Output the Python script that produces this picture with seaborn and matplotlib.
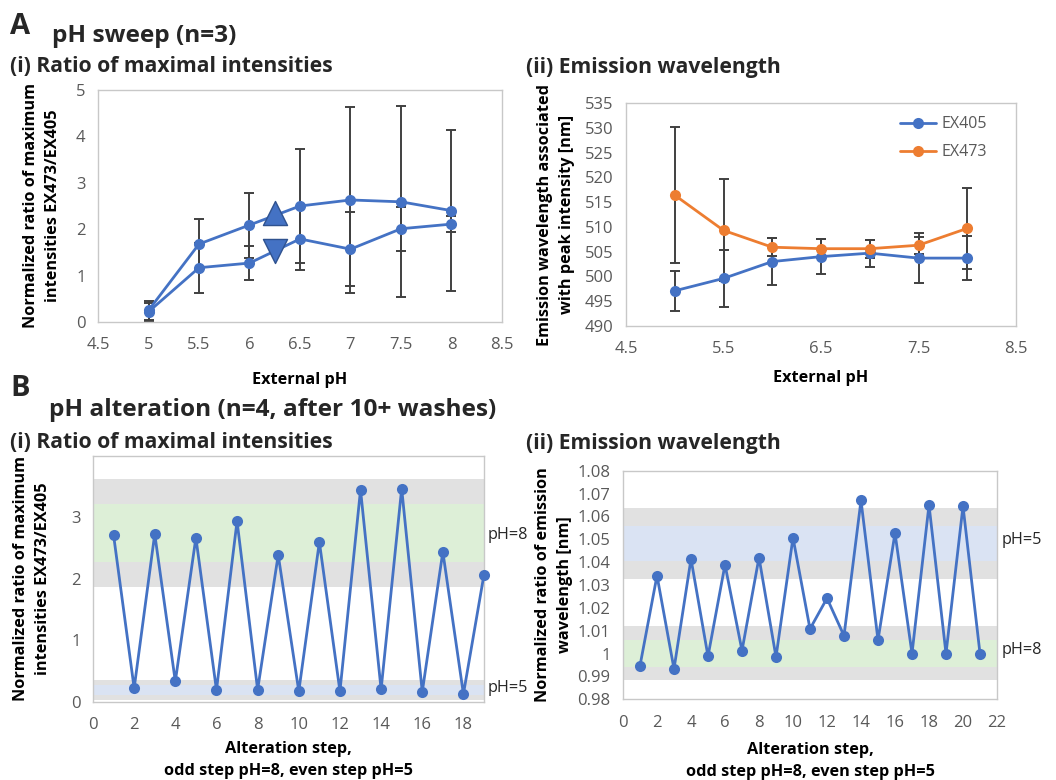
import matplotlib
matplotlib.use('Agg')
import matplotlib.pyplot as plt
import matplotlib.transforms as mtransforms
from matplotlib.ticker import MultipleLocator, FuncFormatter
import seaborn as sns

# ---- A: pH sweep (n=3) ----
ph = [5, 5.5, 6, 6.5, 7, 7.5, 8]
ratio_up = [0.25, 1.68, 2.09, 2.50, 2.63, 2.59, 2.40]
ratio_up_err = [0.21, 0.55, 0.70, 1.22, 2.00, 2.06, 1.73]
ratio_down = [0.22, 1.17, 1.27, 1.79, 1.57, 2.01, 2.11]
ratio_down_err = [0.20, 0.54, 0.37, 0.68, 0.79, 0.47, 0.18]
arrow_x = [6.25, 6.25]
arrow_y = [2.35, 1.53]

wl_405 = [497.1, 499.6, 503.0, 504.0, 504.7, 503.7, 503.7]
wl_405_err = [4.0, 5.8, 4.7, 3.6, 2.7, 5.0, 4.45]
wl_473 = [516.4, 509.3, 505.9, 505.6, 505.6, 506.3, 509.7]
wl_473_err = [13.7, 10.3, 1.8, 1.9, 1.8, 1.7, 8.1]

# ---- B: pH alteration (n=4) ----
steps_ratio = [1, 2, 3, 4, 5, 6, 7, 8, 9, 10, 11, 12, 13, 14, 15, 16, 17, 18, 19]
ratio_alt = [2.71, 0.22, 2.73, 0.33, 2.67, 0.19, 2.94, 0.195, 2.39, 0.17,
             2.60, 0.17, 3.45, 0.20, 3.47, 0.16, 2.44, 0.125, 2.07]
steps_wl = [1, 2, 3, 4, 5, 6, 7, 8, 9, 10, 11, 12, 13, 14, 15, 16, 17, 18, 19, 20, 21]
wl_alt = [0.9947, 1.0341, 0.9933, 1.0414, 0.9988, 1.0389, 1.0013, 1.0420, 0.9985,
          1.0507, 1.0108, 1.0242, 1.0078, 1.0670, 1.0059, 1.0527, 1.0000, 1.0650,
          1.0000, 1.0645, 1.0000]

# reference bands (gray = outer range, coloured = inner range)
ratio_gray = [(1.87, 3.63), (0.02, 0.36)]
ratio_ph8 = (2.28, 3.22)
ratio_ph5 = (0.11, 0.27)
wl_gray = [(1.0326, 1.0635), (0.9885, 1.0121)]
wl_ph5 = (1.0405, 1.0558)
wl_ph8 = (0.9943, 1.0059)

BLUE = '#4472C4'
ORANGE = '#ED7D31'
ERR = '#404040'
SPINE = '#c8c8c8'
TICKTXT = '#595959'
GRAY_BAND = '#e1e1e1'
GREEN_BAND = '#ddefd7'
BLUE_BAND = '#dae3f3'

sns.set_theme(style='white')
plt.rcParams['font.family'] = ['Open Sans', 'DejaVu Sans']

W, H = 1056, 780
fig = plt.figure(figsize=(W / 100, H / 100), dpi=100)


def px_axes(left, top, right, bottom):
    return fig.add_axes([left / W, 1 - bottom / H, (right - left) / W, (bottom - top) / H])


def style(ax):
    for sp in ax.spines.values():
        sp.set_color(SPINE)
        sp.set_linewidth(1.0)
    ax.tick_params(axis='both', which='both', direction='out', length=4, width=1,
                   color=SPINE, labelcolor=TICKTXT, labelsize=12)
    ax.tick_params(axis='x', pad=7)
    ax.tick_params(axis='y', pad=5)
    ax.grid(False)


def labels(ax, xlab, ylab, xy, yx):
    ax.set_xlabel(xlab, fontsize=11.7, fontweight='bold', color='black',
                  va='center', linespacing=1.5)
    ax.xaxis.set_label_coords(0.5, xy)
    ax.set_ylabel(ylab, fontsize=11.7, fontweight='bold', color='black',
                  va='center', ha='center', linespacing=1.55)
    ax.yaxis.set_label_coords(yx, 0.5)


def line(ax, x, y, color, label=None):
    sns.lineplot(x=x, y=y, ax=ax, color=color, marker='o', markersize=8,
                 markeredgewidth=0, linewidth=2, label=label, zorder=3)


# ---- A (i) ----
ax1 = px_axes(98, 90, 502, 322)
style(ax1)
ax1.errorbar(ph, ratio_up, yerr=ratio_up_err, fmt='none', ecolor=ERR,
             elinewidth=1.4, capsize=3.5, capthick=1.4, zorder=2)
ax1.errorbar(ph, ratio_down, yerr=ratio_down_err, fmt='none', ecolor=ERR,
             elinewidth=1.4, capsize=3.5, capthick=1.4, zorder=2)
line(ax1, ph, ratio_up, BLUE)
line(ax1, ph, ratio_down, BLUE)
sns.scatterplot(x=arrow_x[:1], y=arrow_y[:1], ax=ax1, marker='^', s=300,
                color=BLUE, edgecolor='#2F528F', linewidth=1, zorder=4)
sns.scatterplot(x=arrow_x[1:], y=arrow_y[1:], ax=ax1, marker='v', s=300,
                color=BLUE, edgecolor='#2F528F', linewidth=1, zorder=4)
ax1.set_xlim(4.5, 8.5)
ax1.set_ylim(0, 5)
ax1.xaxis.set_major_locator(MultipleLocator(0.5))
ax1.yaxis.set_major_locator(MultipleLocator(1))
ax1.xaxis.set_major_formatter(FuncFormatter(lambda v, p: f'{v:g}'))
labels(ax1, 'External pH', 'Normalized ratio of maximum\nintensities EX473/EX405', -0.25, -0.139)

# ---- A (ii) ----
ax2 = px_axes(626, 103, 1016, 326)
style(ax2)
ax2.errorbar(ph, wl_405, yerr=wl_405_err, fmt='none', ecolor=ERR,
             elinewidth=1.4, capsize=3.5, capthick=1.4, zorder=2)
ax2.errorbar(ph, wl_473, yerr=wl_473_err, fmt='none', ecolor=ERR,
             elinewidth=1.4, capsize=3.5, capthick=1.4, zorder=2)
line(ax2, ph, wl_405, BLUE, 'EX405')
line(ax2, ph, wl_473, ORANGE, 'EX473')
ax2.set_xlim(4.5, 8.5)
ax2.set_ylim(490, 535)
ax2.set_xticks([4.5, 5.5, 6.5, 7.5, 8.5])
ax2.yaxis.set_major_locator(MultipleLocator(5))
leg = ax2.legend(loc='upper right', bbox_to_anchor=(0.925, 0.94), frameon=False,
                 fontsize=11.5, handlelength=2.3, handletextpad=0.3,
                 labelspacing=0.75, borderaxespad=0, borderpad=0)
for t in leg.get_texts():
    t.set_color(TICKTXT)
labels(ax2, 'External pH', 'Emission wavelength associated\nwith peak intensity [nm]', -0.233, -0.179)

# ---- B (i) ----
ax3 = px_axes(93, 456, 484, 701.7)
style(ax3)
for lo, hi in ratio_gray:
    ax3.axhspan(lo, hi, color=GRAY_BAND, lw=0, zorder=0)
ax3.axhspan(*ratio_ph8, color=GREEN_BAND, lw=0, zorder=0.5)
ax3.axhspan(*ratio_ph5, color=BLUE_BAND, lw=0, zorder=0.5)
line(ax3, steps_ratio, ratio_alt, BLUE)
ax3.set_xlim(0, 19)
ax3.set_ylim(0, 4)
ax3.xaxis.set_major_locator(MultipleLocator(2))
ax3.set_yticks([0, 1, 2, 3])
for l in ax3.lines:
    l.set_clip_on(False)
tr3 = mtransforms.blended_transform_factory(ax3.transAxes, ax3.transData)
ax3.text(1.008, 2.71, 'pH=8', transform=tr3, fontsize=11.7, color='#262626', va='center')
ax3.text(1.008, 0.22, 'pH=5', transform=tr3, fontsize=11.7, color='#262626', va='center')
labels(ax3, 'Alteration step,\nodd step pH=8, even step pH=5',
       'Normalized ratio of maximum\nintensities EX473/EX405', -0.239, -0.156)

# ---- B (ii) ----
ax4 = px_axes(623, 470.7, 997, 699.3)
style(ax4)
for lo, hi in wl_gray:
    ax4.axhspan(lo, hi, color=GRAY_BAND, lw=0, zorder=0)
ax4.axhspan(*wl_ph5, color=BLUE_BAND, lw=0, zorder=0.5)
ax4.axhspan(*wl_ph8, color=GREEN_BAND, lw=0, zorder=0.5)
line(ax4, steps_wl, wl_alt, BLUE)
ax4.set_xlim(0, 22)
ax4.set_ylim(0.98, 1.08)
ax4.xaxis.set_major_locator(MultipleLocator(2))
ax4.yaxis.set_major_locator(MultipleLocator(0.01))
ax4.yaxis.set_major_formatter(FuncFormatter(lambda v, p: f'{round(v, 2):g}'))
tr4 = mtransforms.blended_transform_factory(ax4.transAxes, ax4.transData)
ax4.text(1.013, 1.0497, 'pH=5', transform=tr4, fontsize=11.7, color='#262626', va='center')
ax4.text(1.013, 1.0016, 'pH=8', transform=tr4, fontsize=11.7, color='#262626', va='center')
labels(ax4, 'Alteration step,\nodd step pH=8, even step pH=5',
       'Normalized ratio of emission\nwavelength [nm]', -0.27, -0.184)


# ---- panel headings ----
def head(x, y, s, size):
    fig.text(x / W, 1 - y / H, s, fontsize=size, fontweight='bold', va='center', ha='left')


head(10, 26, 'A', 21)
head(52, 36, 'pH sweep (n=3)', 17.6)
head(10, 67, '(i) Ratio of maximal intensities', 15.2)
head(526, 68, '(ii) Emission wavelength', 15.2)
head(10, 389, 'B', 21)
head(49, 410, 'pH alteration (n=4, after 10+ washes)', 17.6)
head(10, 442, '(i) Ratio of maximal intensities', 15.2)
head(526, 443, '(ii) Emission wavelength', 15.2)

fig.savefig('out.png', dpi=100, facecolor='white')
